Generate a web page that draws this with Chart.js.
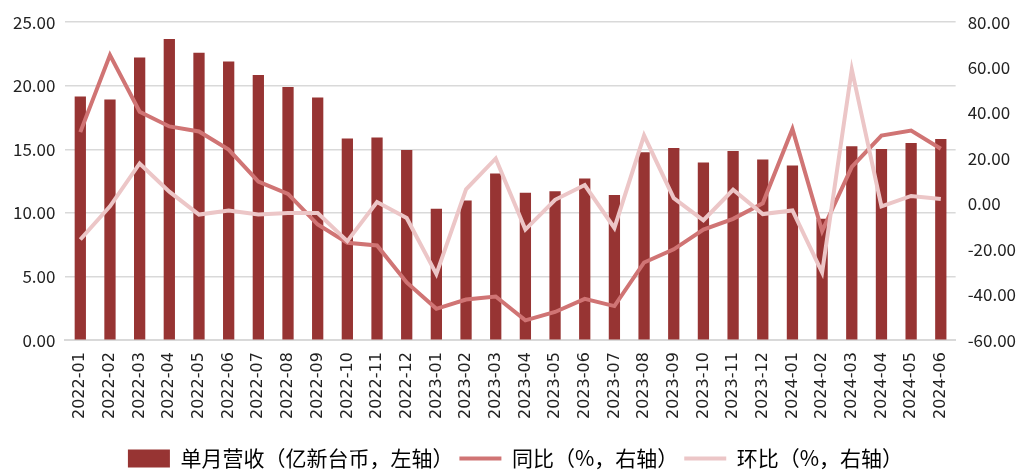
<!DOCTYPE html>
<html>
<head>
<meta charset="utf-8">
<script src="https://cdn.jsdelivr.net/npm/chart.js@4"></script>
<style>
    html, body { margin: 0; padding: 0; background: #fff; }
    #wrap { width: 1024px; height: 473px; }
</style>
</head>
<body>
<div id="wrap"><canvas id="rev"></canvas></div>
<script>
const months = ["2022-01", "2022-02", "2022-03", "2022-04", "2022-05", "2022-06", "2022-07", "2022-08", "2022-09", "2022-10", "2022-11", "2022-12",
    "2023-01", "2023-02", "2023-03", "2023-04", "2023-05", "2023-06", "2023-07", "2023-08", "2023-09", "2023-10", "2023-11", "2023-12",
    "2024-01", "2024-02", "2024-03", "2024-04", "2024-05", "2024-06"];
// 单月营收 (亿新台币)
const revenue = [19.16, 18.93, 22.22, 23.68, 22.59, 21.91, 20.85, 19.91, 19.08, 15.86, 15.94, 14.95,
    10.33, 10.98, 13.11, 11.58, 11.71, 12.72, 11.42, 14.77, 15.11, 13.97, 14.88, 14.20,
    13.73, 9.55, 15.24, 15.03, 15.50, 15.81];
// 同比 (%)
const yoy = [31.6, 65.5, 40.6, 34.1, 31.9, 23.9, 9.8, 4.4, -9.1, -17.1, -18.3, -34.6,
    -46.2, -42.1, -40.8, -51.3, -47.6, -41.8, -45.0, -25.8, -20.0, -11.3, -6.6, 0.3,
    33.0, -12.0, 16.3, 30.1, 32.3, 24.3];
// 环比 (%)
const mom = [-15.7, -1.1, 17.8, 5.4, -4.7, -2.9, -4.7, -4.0, -4.0, -16.4, 0.8, -6.2,
    -30.9, 6.4, 20.0, -11.3, 1.8, 8.3, -10.6, 30.1, 2.5, -7.2, 6.2, -4.5,
    -2.9, -30.2, 59.2, -1.1, 3.5, 2.2];

const seriesNames = ["单月营收（亿新台币，左轴）", "同比（%，右轴）", "环比（%，右轴）"];
const barColor = '#973433';
const yoyColor = '#d07474';
const momColor = '#ecc6c7';

const cjk = '"Noto Sans CJK SC", "Noto Sans", sans-serif';
Chart.defaults.font.family = cjk;
Chart.defaults.color = '#222';

new Chart(
    document.getElementById('rev'),
    {
        data: {
            labels: months,
            datasets: [
                {
                    type: 'line',
                    label: seriesNames[1],
                    data: yoy,
                    yAxisID: 'y1',
                    borderColor: yoyColor,
                    borderWidth: 4,
                    pointRadius: 0,
                    tension: 0,
                    order: 1
                },
                {
                    type: 'line',
                    label: seriesNames[2],
                    data: mom,
                    yAxisID: 'y1',
                    borderColor: momColor,
                    borderWidth: 4,
                    pointRadius: 0,
                    tension: 0,
                    order: 0
                },
                {
                    type: 'bar',
                    label: seriesNames[0],
                    data: revenue,
                    yAxisID: 'y',
                    backgroundColor: barColor,
                    barPercentage: 0.4,
                    categoryPercentage: 0.95,
                    order: 2
                }
            ]
        },
        options: {
            responsive: true,
            maintainAspectRatio: false,
            animation: false,
            layout: {
                padding: { top: 12, left: 3, right: -4, bottom: -6 }
            },
            scales: {
                x: {
                    grid: { display: false },
                    border: { color: '#d9d9d9', width: 2 },
                    ticks: {
                        minRotation: 90,
                        maxRotation: 90,
                        autoSkip: false,
                        padding: 4,
                        font: { size: 16, family: '"DejaVu Sans", sans-serif' },
                        color: '#222'
                    },
                    // leave a gap between the month labels and the legend
                    afterFit: function (scale) {
                        scale.height += 19;
                    }
                },
                y: {
                    position: 'left',
                    min: 0,
                    max: 25,
                    grid: { color: '#d9d9d9', lineWidth: 1.5, drawTicks: false },
                    border: { display: false },
                    ticks: {
                        stepSize: 5,
                        padding: 10,
                        font: { size: 17 },
                        color: '#222',
                        callback: v => v.toFixed(2)
                    }
                },
                y1: {
                    position: 'right',
                    min: -60,
                    max: 80,
                    grid: { display: false, drawTicks: false },
                    border: { display: false },
                    ticks: {
                        stepSize: 20,
                        padding: 12,
                        font: { size: 17 },
                        color: '#222',
                        callback: v => v.toFixed(2)
                    }
                }
            },
            plugins: {
                tooltip: { enabled: false },
                legend: {
                    position: 'bottom',
                    labels: {
                        padding: 6,
                        font: { size: 21 },
                        color: '#222',
                        usePointStyle: true,
                        pointStyleWidth: 42,
                        boxHeight: 18,
                        generateLabels: function (chart) {
                            return [
                                { text: seriesNames[0], pointStyle: 'rect', fillStyle: barColor, strokeStyle: barColor, lineWidth: 0, datasetIndex: 2 },
                                { text: seriesNames[1], pointStyle: 'line', fillStyle: yoyColor, strokeStyle: yoyColor, lineWidth: 4, datasetIndex: 0 },
                                { text: seriesNames[2], pointStyle: 'line', fillStyle: momColor, strokeStyle: momColor, lineWidth: 4, datasetIndex: 1 }
                            ];
                        }
                    }
                }
            }
        }
    }
);
</script>
</body>
</html>
